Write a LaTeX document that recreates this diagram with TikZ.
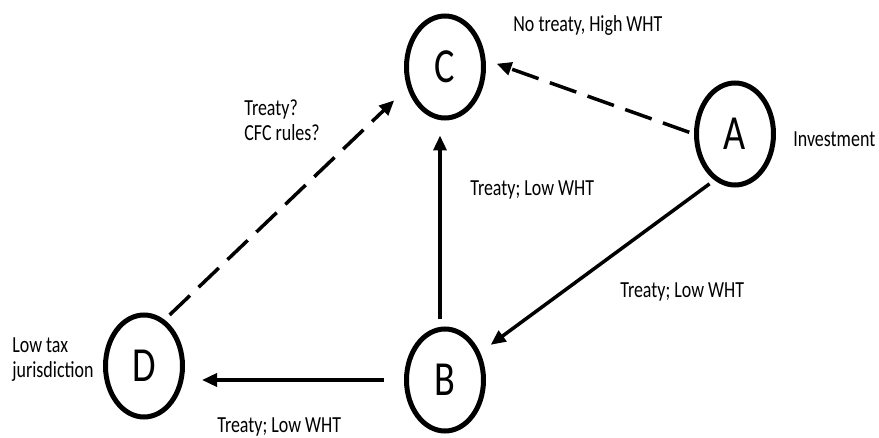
\documentclass[tikz,border=0pt]{standalone}
\usepackage{fontspec}
\setmainfont{Carlito}[FakeStretch=0.78]
\usetikzlibrary{calc,shapes,arrows.meta}

\begin{document}
\begin{tikzpicture}[x=0.5pt,y=-0.5pt]

\tikzset{party/.style={ellipse, draw, line width=2.5pt, minimum width=38.5pt, minimum height=51pt, inner sep=0pt, font=\fontsize{24.5}{28}\selectfont}}
\tikzset{note/.style={anchor=west, inner sep=0pt, align=left, font=\fontsize{11.5}{12.5}\selectfont}}
\tikzset{flow/.style={line width=1.75pt, -{Triangle[length=7.5pt,width=6.5pt]}}}
\tikzset{maybe/.style={flow, dash pattern=on 14pt off 6pt}}

\useasboundingbox (0,0) rectangle (879,438);

\foreach \n/\x/\y in {A/735/134, B/445/380, C/445/67, D/144/366}
{
\node[party] (\n) at (\x,\y) {\n};
}

\draw[maybe, shorten <=2.5pt, shorten >=5.8pt] (A.180) -- (C.10);
\draw[flow, shorten <=3pt, shorten >=6.5pt] (A.246) -- (B.38);
\draw[flow, shorten <=3.5pt, shorten >=7.5pt] ([xshift=-2.5pt]B.north) -- ([xshift=-2.5pt]C.south);
\draw[flow, shorten <=10pt, shorten >=8.5pt] (B.west) -- (B.west -| D.east);
\draw[maybe, shorten <=3.5pt, shorten >=9pt] (D.66) -- (C.209);

\node[note] (nohigh) at (513,25) {No treaty, High WHT};
\node[note] (invest) at (793,139) {Investment};
\node[note] (cfc) at (244,120) {Treaty?\\CFC rules?};
\node[note] (lowbc) at (470,190) {Treaty; Low WHT};
\node[note] (lowab) at (620,292) {Treaty; Low WHT};
\node[note] (lowbd) at (217,427) {Treaty; Low WHT};
\node[note] (lowtax) at (12,360) {Low tax\\jurisdiction};
\end{tikzpicture}
\end{document}
